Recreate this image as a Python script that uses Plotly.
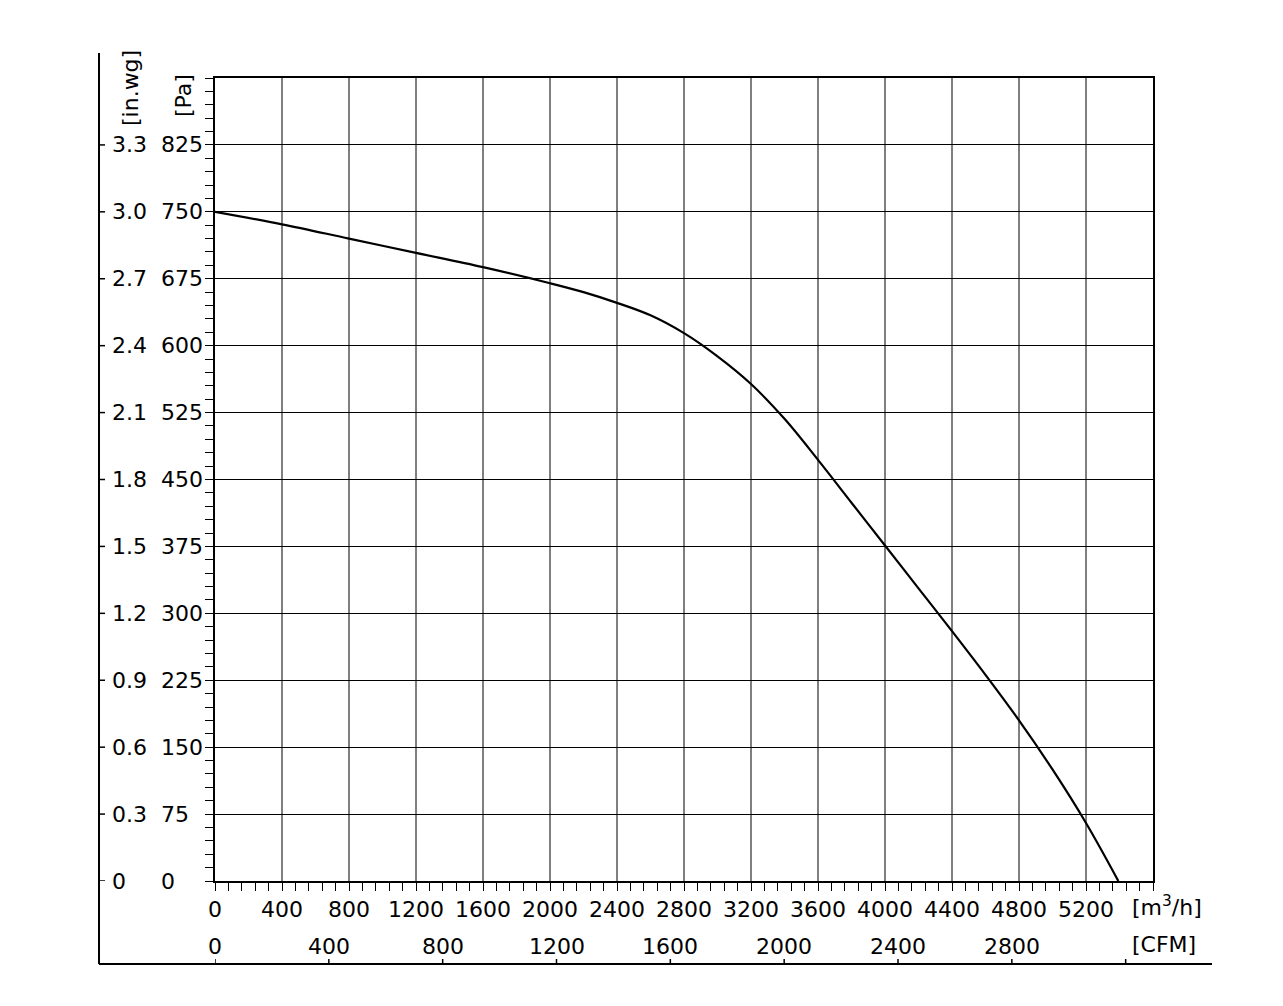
import plotly.graph_objects as go

# fan curve: airflow [m3/h] vs static pressure [Pa]
flow_m3h = [0, 400, 800, 1200, 1600, 2000, 2200, 2400, 2600, 2800, 3000, 3200,
            3400, 3600, 3800, 4000, 4200, 4400, 4600, 4800, 5000, 5200, 5393]
pressure_pa = [750, 736, 720, 704, 688, 670, 660, 648, 634, 614, 588, 557,
               518, 472, 424, 376, 328, 280, 231, 180, 125, 65, 0]

flow_ticks = [0, 400, 800, 1200, 1600, 2000, 2400, 2800, 3200, 3600, 4000, 4400, 4800, 5200]
cfm_ticks = [0, 400, 800, 1200, 1600, 2000, 2400, 2800, 3200]
cfm_labels = ['0', '400', '800', '1200', '1600', '2000', '2400', '2800', '']
pa_ticks = [0, 75, 150, 225, 300, 375, 450, 525, 600, 675, 750, 825]
inwg_labels = ['0', '0.3', '0.6', '0.9', '1.2', '1.5', '1.8', '2.1', '2.4', '2.7', '3.0', '3.3']

M3H_PER_CFM = 1.69901

# page has an 8px body margin, so the figure starts at (8, 8)
W, H = 1275, 998
L, R, T, B = 207, 130, 70, 125
PLOT_X0, PLOT_X1, PLOT_Y0, PLOT_Y1 = 215, 1153, 78, 881
FONT = 'DejaVu Sans'
FS = 22


def px_x(px):
    return (px - PLOT_X0) / (PLOT_X1 - PLOT_X0)


def px_y(py):
    return (PLOT_Y1 - py) / (PLOT_Y1 - PLOT_Y0)


fig = go.Figure(go.Scatter(
    x=flow_m3h, y=pressure_pa, mode='lines',
    line=dict(color='black', width=2.2, shape='spline', smoothing=1),
    hoverinfo='skip', showlegend=False
))

fig.update_xaxes(
    range=[0, 5600], tickvals=flow_ticks, ticks='outside', ticklen=8, tickwidth=1.3,
    tickcolor='black', showgrid=True, gridcolor='#7f7f7f', gridwidth=1.6,
    showline=True, linecolor='black', linewidth=1.8, mirror=True, zeroline=False,
    minor=dict(dtick=80, ticks='outside', ticklen=8, tickwidth=1.3, tickcolor='black', showgrid=False),
    tickfont=dict(family=FONT, size=FS, color='black'), fixedrange=True
)
fig.update_yaxes(
    range=[0, 900], tickvals=pa_ticks, ticks='outside', ticklen=8, tickwidth=1.3,
    tickcolor='black', showgrid=True, gridcolor='black', gridwidth=1,
    showline=True, linecolor='black', linewidth=1.8, mirror=True, zeroline=False,
    minor=dict(dtick=15, ticks='outside', ticklen=8, tickwidth=1.3, tickcolor='black', showgrid=False),
    showticklabels=False, fixedrange=True
)

shapes = []
annotations = []
txt = dict(family=FONT, size=FS, color='black')

# outer frame: in.wg scale on the left, CFM scale at the bottom
x_left = px_x(99)
y_bottom = px_y(964)
shapes.append(dict(type='line', xref='paper', yref='paper', x0=x_left, x1=x_left,
                   y0=px_y(53), y1=y_bottom, line=dict(color='black', width=2)))
shapes.append(dict(type='line', xref='paper', yref='paper', x0=x_left, x1=px_x(1212),
                   y0=y_bottom, y1=y_bottom, line=dict(color='black', width=2)))

for pa, wg in zip(pa_ticks, inwg_labels):
    shapes.append(dict(type='line', xref='paper', yref='y', x0=x_left, x1=px_x(105),
                       y0=pa, y1=pa, line=dict(color='black', width=1.5)))
    annotations.append(dict(xref='paper', yref='y', x=px_x(110), y=pa, text=wg,
                            showarrow=False, xanchor='left', yanchor='middle', font=txt))
    annotations.append(dict(xref='paper', yref='y', x=px_x(159), y=pa, text=str(pa),
                            showarrow=False, xanchor='left', yanchor='middle', font=txt))

for cfm, lab in zip(cfm_ticks, cfm_labels):
    xv = cfm * M3H_PER_CFM
    shapes.append(dict(type='line', xref='x', yref='paper', x0=xv, x1=xv,
                       y0=y_bottom, y1=px_y(959), line=dict(color='black', width=1.5)))
    if lab:
        annotations.append(dict(xref='x', yref='paper', x=xv, y=px_y(946), text=lab,
                                showarrow=False, xanchor='center', yanchor='middle', font=txt))

annotations += [
    dict(xref='paper', yref='paper', x=px_x(1130), y=px_y(906), text='[m<sup>3</sup>/h]',
         showarrow=False, xanchor='left', yanchor='middle', font=txt),
    dict(xref='paper', yref='paper', x=px_x(1130), y=px_y(944), text='[CFM]',
         showarrow=False, xanchor='left', yanchor='middle', font=txt),
    dict(xref='paper', yref='paper', x=px_x(130), y=px_y(88), text='[in.wg]', textangle=-90,
         showarrow=False, xanchor='center', yanchor='middle', font=txt),
    dict(xref='paper', yref='paper', x=px_x(184), y=px_y(96), text='[Pa]', textangle=-90,
         showarrow=False, xanchor='center', yanchor='middle', font=txt),
]

fig.update_layout(
    width=W, height=H, autosize=False,
    margin=dict(l=L, r=R, t=T, b=B),
    plot_bgcolor='white', paper_bgcolor='white',
    font=txt, shapes=shapes, annotations=annotations
)

fig.write_html('out.html')
